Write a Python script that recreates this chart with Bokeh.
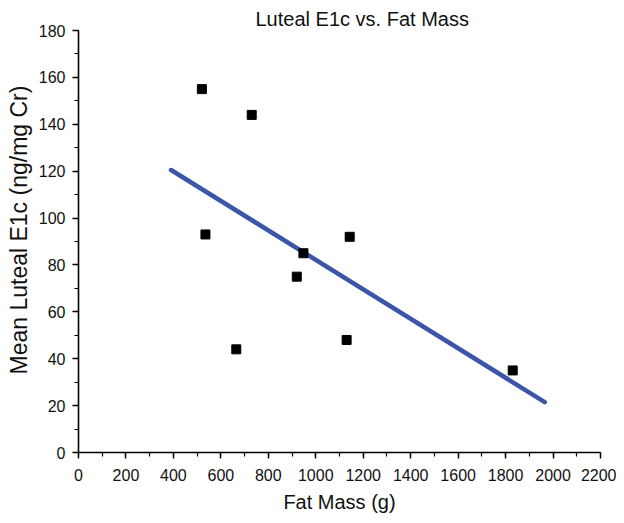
from bokeh.plotting import figure
from bokeh.models import Range1d, SingleIntervalTicker, Title
from bokeh.embed import file_html
from bokeh.resources import INLINE

# Data
fat_mass = [520, 730, 535, 665, 920, 948, 1143, 1130, 1830]
luteal_e1c = [155, 144, 93, 44, 75, 85, 92, 48, 35]

# Fitted regression line end points
fit_x = [390, 1965]
fit_y = [120.5, 21.5]

FONT = "Liberation Sans"

p = figure(width=616, height=519, output_backend="svg", toolbar_location=None,
           x_range=Range1d(0, 2200), y_range=Range1d(0, 180),
           min_border_left=78, min_border_right=16, min_border_top=30, min_border_bottom=67)

p.title.text = "Luteal E1c vs. Fat Mass"
p.title.text_font = FONT
p.title.text_font_size = "20px"
p.title.text_font_style = "normal"
p.title.align = "left"
p.title.offset = 177
p.title.standoff = 2
p.title.text_color = "#111111"

p.outline_line_color = None
p.xgrid.grid_line_color = None
p.ygrid.grid_line_color = None
p.background_fill_color = "white"
p.border_fill_color = "white"

p.xaxis.ticker = SingleIntervalTicker(interval=200, num_minor_ticks=2)
p.yaxis.ticker = SingleIntervalTicker(interval=20, num_minor_ticks=2)

for ax in (p.xaxis[0], p.yaxis[0]):
    ax.axis_line_width = 1.6
    ax.axis_line_color = "black"
    ax.major_tick_line_color = "black"
    ax.minor_tick_line_color = "black"
    ax.major_tick_line_width = 1.4
    ax.minor_tick_line_width = 1.2
    ax.major_tick_in = 0
    ax.major_tick_out = 6
    ax.minor_tick_in = 0
    ax.minor_tick_out = 4
    ax.major_label_text_font = FONT
    ax.major_label_text_font_size = "16px"
    ax.major_label_text_color = "#111111"

p.xaxis.major_label_standoff = 10
p.yaxis.major_label_standoff = 7

p.xaxis.axis_label = "Fat Mass (g)"
p.xaxis.axis_label_text_font = FONT
p.xaxis.axis_label_text_font_size = "20px"
p.xaxis.axis_label_text_font_style = "normal"
p.xaxis.axis_label_text_color = "#111111"
p.xaxis.axis_label_standoff = 7

ylab = Title(text="Mean Luteal E1c (ng/mg Cr)", align="left", offset=78,
             text_font=FONT, text_font_size="23px", text_font_style="normal",
             text_color="#111111", standoff=7)
p.add_layout(ylab, "left")

p.line(fit_x, fit_y, line_color="#3B56A8", line_width=4.5, line_cap="round")
p.scatter(fat_mass, luteal_e1c, marker="square", size=9,
          fill_color="black", line_color="black")

open("out.html", "w").write(file_html(p, INLINE))
